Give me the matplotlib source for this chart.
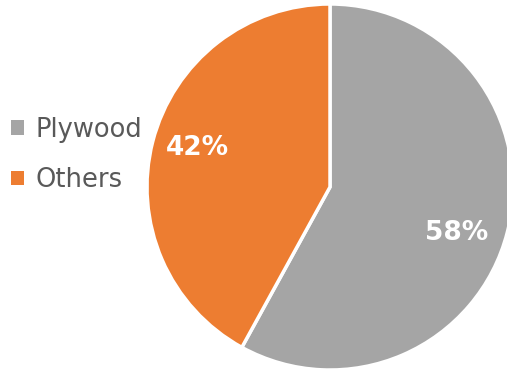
import matplotlib
matplotlib.use("Agg")
import matplotlib.pyplot as plt
from matplotlib.patches import Patch

labels = ["Plywood", "Others"]
shares = [58, 42]
colors = ["#A5A5A5", "#ED7D31"]

fig = plt.figure(figsize=(5.07, 3.71), dpi=100)
ax = fig.add_axes([0, 0, 1, 1])

wedges, texts = ax.pie(shares, colors=colors, startangle=90, counterclock=False,
                       center=(330, 184), radius=183,
                       wedgeprops=dict(edgecolor="white", linewidth=2.5),
                       frame=True)
ax.set_xlim(0, 507)
ax.set_ylim(0, 371)
ax.set_aspect("equal")
ax.axis("off")

# percentage labels
ax.text(457, 371 - 233, "%d%%" % shares[0], color="white", fontsize=19,
        fontweight="bold", ha="center", va="center")
ax.text(197, 371 - 148, "%d%%" % shares[1], color="white", fontsize=19,
        fontweight="bold", ha="center", va="center")

handles = [Patch(facecolor=c, edgecolor="none") for c in colors]
leg = ax.legend(handles, labels, loc="center left", bbox_to_anchor=(0.022, 0.582),
                bbox_transform=fig.transFigure, frameon=False, fontsize=18.5,
                handlelength=0.5, handleheight=0.5, handletextpad=0.45,
                labelspacing=0.95, borderpad=0, borderaxespad=0)
for t in leg.get_texts():
    t.set_color("#595959")

fig.savefig("out.png", dpi=100)
